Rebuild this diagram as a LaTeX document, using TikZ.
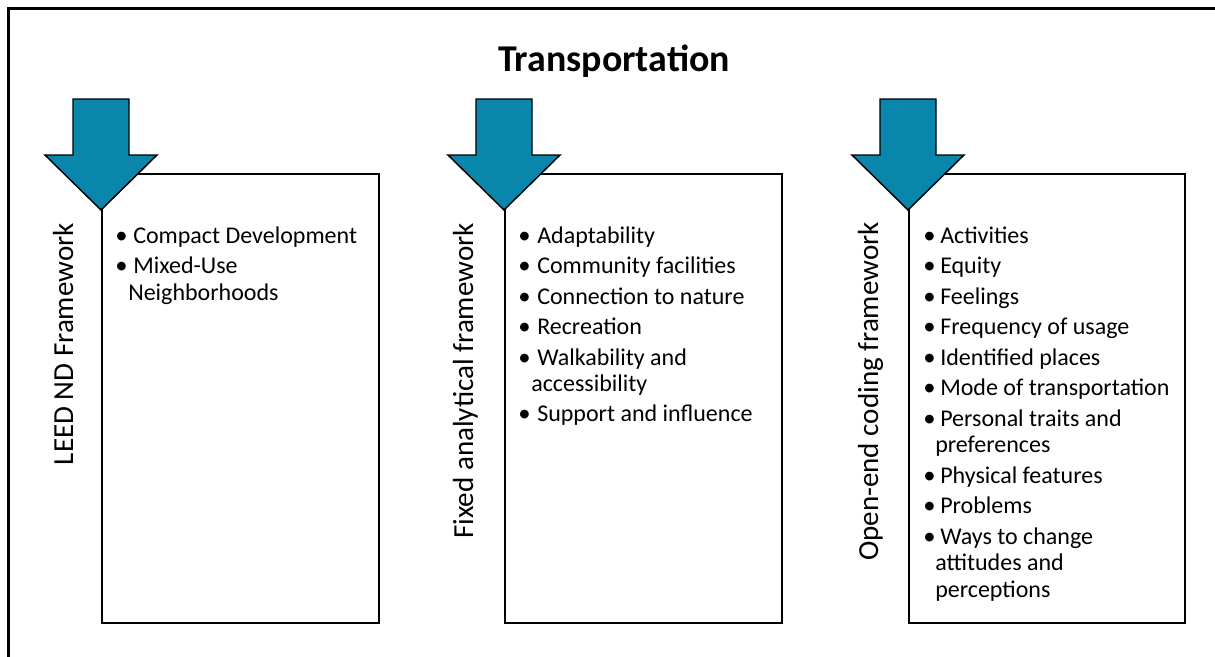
\documentclass[tikz,border=0pt]{standalone}
\usepackage{fontspec}
\setmainfont{Carlito}
\definecolor{arrowfill}{RGB}{10,134,172}
\newcommand{\itemfont}{\fontsize{18pt}{21pt}\selectfont}
\newcommand{\labfont}{\fontsize{21.8pt}{26pt}\selectfont}
\newcommand{\bul}{\fontsize{18.5pt}{21pt}\selectfont•}
\begin{document}
\begin{tikzpicture}[x=0.75pt,y=-0.75pt,
  frame/.style={line width=1.6pt,black},
  panel/.style={draw,line width=1.5pt,rectangle,inner sep=0,minimum width=277*0.75pt,minimum height=449.5*0.75pt,anchor=north west},
  downarrow/.style={draw=black,line width=1.1pt,fill=arrowfill,line join=miter},
  itm/.style={anchor=base west,inner sep=0,font=\itemfont},
  vlab/.style={anchor=base east,inner sep=0,rotate=90,font=\labfont},
  ttl/.style={anchor=base,inner sep=0,font=\fontsize{28.4pt}{34pt}\selectfont\bfseries}]
\useasboundingbox (0,0) rectangle (1215,657);
% outer frame (partly outside the picture)
\coordinate (fa) at (1215,8.5);
\coordinate (fb) at (8.5,8.5);
\coordinate (fc) at (8.5,657);
\draw[frame] (fa) -- (fb) -- (fc);
\node[ttl] (title) at (614,71) {Transportation};
% panels
\foreach \n/\x/\w in {p1/101/277, p2/504/277, p3/908/276}{
  \node[panel,minimum width=\w*0.75pt] (\n) at (\x,172.5) {};
}
% arrows
\foreach \n/\x in {a1/101, a2/504, a3/908}{
  \coordinate (\n) at (\x,210);
  \draw[downarrow] (\n) -- ++(-56,-55) -- ++(28,0) -- ++(0,-56) -- ++(56,0) -- ++(0,56) -- ++(28,0) -- cycle;
}
% vertical labels
\node[vlab] (l1) at (73,223) {LEED ND Framework};
\node[vlab] (l2) at (473,223) {Fixed analytical framework};
\node[vlab] (l3) at (878,222) {Open-end coding framework};
% panel 1 items
\node[itm] (b11) at (115,243) {\bul};
\node[itm] (t11) at (133,243) {Compact Development};
\node[itm] (b12) at (115,273.5) {\bul};
\node[itm] (t12) at (133,273.5) {Mixed-Use};
\node[itm] (t12b) at (128,300) {Neighborhoods};
% panel 2 items
\node[itm] (b21) at (518,243) {\bul};
\node[itm] (t21) at (537,243) {Adaptability};
\node[itm] (b22) at (518,273.5) {\bul};
\node[itm] (t22) at (537,273.5) {Community facilities};
\node[itm] (b23) at (518,304) {\bul};
\node[itm] (t23) at (537,304) {Connection to nature};
\node[itm] (b24) at (518,334.5) {\bul};
\node[itm] (t24) at (537,334.5) {Recreation};
\node[itm] (b25) at (518,365) {\bul};
\node[itm] (t25) at (537,365) {Walkability and};
\node[itm] (t25b) at (531,391.5) {accessibility};
\node[itm] (b26) at (518,421.5) {\bul};
\node[itm] (t26) at (537,421.5) {Support and influence};
% panel 3 items
\node[itm] (b31) at (923,243) {\bul};
\node[itm] (t31) at (940,243) {Activities};
\node[itm] (b32) at (923,273.5) {\bul};
\node[itm] (t32) at (940,273.5) {Equity};
\node[itm] (b33) at (923,304) {\bul};
\node[itm] (t33) at (940,304) {Feelings};
\node[itm] (b34) at (923,334.5) {\bul};
\node[itm] (t34) at (940,334.5) {Frequency of usage};
\node[itm] (b35) at (923,365) {\bul};
\node[itm] (t35) at (940,365) {Identified places};
\node[itm] (b36) at (923,395.5) {\bul};
\node[itm] (t36) at (940,395.5) {Mode of transportation};
\node[itm] (b37) at (923,426) {\bul};
\node[itm] (t37) at (940,426) {Personal traits and};
\node[itm] (t37b) at (935,452.5) {preferences};
\node[itm] (b38) at (923,483) {\bul};
\node[itm] (t38) at (940,483) {Physical features};
\node[itm] (b39) at (923,513.5) {\bul};
\node[itm] (t39) at (940,513.5) {Problems};
\node[itm] (b310) at (923,544) {\bul};
\node[itm] (t310) at (940,544) {Ways to change};
\node[itm] (t310b) at (935,570.5) {attitudes and};
\node[itm] (t310c) at (935,597) {perceptions};
\end{tikzpicture}
\end{document}
